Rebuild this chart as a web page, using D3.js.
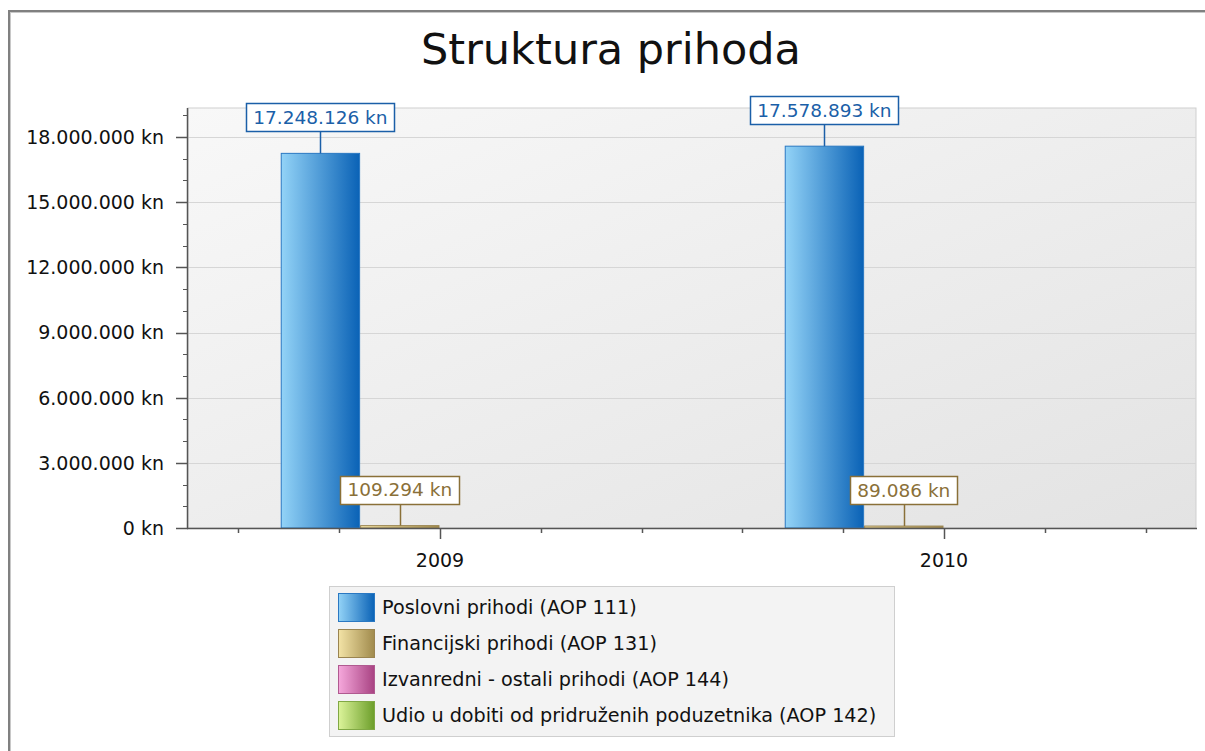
<!DOCTYPE html>
<html><head><meta charset="utf-8">
<script src="https://cdn.jsdelivr.net/npm/d3@7/dist/d3.min.js"></script>
<style>body{margin:0;background:#fff;}svg{display:block;font-family:"DejaVu Sans",Verdana,sans-serif;}</style>
</head><body>
<svg id="c" width="1205" height="751"></svg>
<script>
const title = "Struktura prihoda";
const years = ["2009", "2010"];
const seriesNames = ["Poslovni prihodi (AOP 111)", "Financijski prihodi (AOP 131)", "Izvanredni - ostali prihodi (AOP 144)", "Udio u dobiti od pridruženih poduzetnika (AOP 142)"];
const poslovni = [17248126, 17578893];
const financijski = [109294, 89086];
const izvanredni = [0, 0];
const udio = [0, 0];
const yTicks = [0, 3000000, 6000000, 9000000, 12000000, 15000000, 18000000];
const seriesValues = [poslovni, financijski, izvanredni, udio];
const colors = [
  {light:"#93d3f7", dark:"#0a62b6", stroke:"#2a78c2", label:"#1b5fa8"},
  {light:"#f3e3a6", dark:"#a08a4c", stroke:"#9a8450", label:"#8a7038"},
  {light:"#f6a8dc", dark:"#a84282", stroke:"#b05a90", label:"#a04080"},
  {light:"#dcf49a", dark:"#6c9e2a", stroke:"#80a844", label:"#5a8a20"}
];

const fmt = v => d3.format(",")(v).replace(/,/g, ".") + " kn";
const svg = d3.select("#c");
const defs = svg.append("defs");

// outer frame
svg.append("rect").attr("x", 9).attr("y", 11).attr("width", 1205).attr("height", 760)
  .attr("fill", "#fff").attr("stroke", "#808080").attr("stroke-width", 2);
svg.append("rect").attr("x", 10.5).attr("y", 12.5).attr("width", 1205).attr("height", 760)
  .attr("fill", "none").attr("stroke", "#c8c8c8").attr("stroke-width", 1);

const L = 188, R = 1196, T = 108, B = 528;
const maxV = d3.max(seriesValues.flat()) * 1.1;
const y = d3.scaleLinear().domain([0, maxV]).range([B, T]);
const x = d3.scaleBand().domain(years).range([L, R]).padding(0);
const step = x.bandwidth();
const xs = d3.scaleBand().domain(seriesNames).range([-0.316 * step, 0.314 * step]).padding(0);

// plot background
const bg = defs.append("linearGradient").attr("id", "bg").attr("x1", 0).attr("y1", 0).attr("x2", 1).attr("y2", 1);
bg.append("stop").attr("offset", 0).attr("stop-color", "#f8f8f8");
bg.append("stop").attr("offset", 1).attr("stop-color", "#e3e3e3");
svg.append("rect").attr("x", L).attr("y", T).attr("width", R - L).attr("height", B - T)
  .attr("fill", "url(#bg)").attr("stroke", "#cfcfcf");

// gridlines
svg.append("g").selectAll("line").data(yTicks.filter(d => d > 0)).join("line")
  .attr("x1", L).attr("x2", R).attr("y1", d => Math.round(y(d)) + 0.5).attr("y2", d => Math.round(y(d)) + 0.5)
  .attr("stroke", "#d6d6d6");

// gradients for bars
colors.forEach((c, i) => {
  const g = defs.append("linearGradient").attr("id", "g" + i).attr("x1", 0).attr("x2", 1).attr("y1", 0).attr("y2", 0);
  g.append("stop").attr("offset", 0).attr("stop-color", c.light);
  g.append("stop").attr("offset", 1).attr("stop-color", c.dark);
});

// bars
seriesValues.forEach((vals, si) => {
  svg.append("g").selectAll("rect").data(vals.map((v, i) => ({v, yr: years[i]})).filter(d => d.v > 0)).join("rect")
    .attr("x", d => x(d.yr) + step / 2 + xs(seriesNames[si]) + 0.5)
    .attr("width", xs.bandwidth() - 1)
    .attr("y", d => y(d.v))
    .attr("height", d => B - y(d.v))
    .attr("fill", "url(#g" + si + ")").attr("stroke", colors[si].stroke).attr("stroke-width", 1);
});

// y axis
const yMinor = d3.range(0, maxV, 1000000);
const yAxis = svg.append("g");
yAxis.append("line").attr("x1", L - 0.5).attr("x2", L - 0.5).attr("y1", T).attr("y2", B).attr("stroke", "#555").attr("stroke-width", 1.5);
yAxis.selectAll("line.mn").data(yMinor).join("line").attr("class", "mn")
  .attr("x1", L - 5).attr("x2", L).attr("y1", d => Math.round(y(d)) + 0.5).attr("y2", d => Math.round(y(d)) + 0.5)
  .attr("stroke", "#555");
yAxis.selectAll("line.mj").data(yTicks).join("line").attr("class", "mj")
  .attr("x1", L - 12).attr("x2", L).attr("y1", d => Math.round(y(d)) + 0.5).attr("y2", d => Math.round(y(d)) + 0.5)
  .attr("stroke", "#555").attr("stroke-width", 1.5);
yAxis.selectAll("text").data(yTicks).join("text")
  .attr("x", 164).attr("y", d => y(d)).attr("dy", "0.36em").attr("text-anchor", "end")
  .attr("font-size", 19).attr("fill", "#111").text(fmt);

// x axis
const xAxis = svg.append("g");
xAxis.append("line").attr("x1", L - 1).attr("x2", R + 1).attr("y1", B + 0.5).attr("y2", B + 0.5).attr("stroke", "#555").attr("stroke-width", 1.5);
const xMinor = years.flatMap(yr => d3.range(-2, 3).map(k => ({yr, k})));
xAxis.selectAll("line.t").data(xMinor).join("line").attr("class", "t")
  .attr("x1", d => Math.round(x(d.yr) + step / 2 + d.k * step / 5) + 0.5)
  .attr("x2", d => Math.round(x(d.yr) + step / 2 + d.k * step / 5) + 0.5)
  .attr("y1", B).attr("y2", d => d.k === 0 ? B + 11 : B + 5)
  .attr("stroke", "#555").attr("stroke-width", 1.5);
xAxis.selectAll("text").data(years).join("text")
  .attr("x", d => x(d) + step / 2).attr("y", 567).attr("text-anchor", "middle")
  .attr("font-size", 19).attr("fill", "#111").text(d => d);

// value labels
seriesValues.forEach((vals, si) => {
  vals.forEach((v, i) => {
    if (v <= 0) return;
    const cx = x(years[i]) + step / 2 + xs(seriesNames[si]) + xs.bandwidth() / 2;
    const top = y(v);
    const g = svg.append("g");
    const t = g.append("text").attr("x", cx).attr("y", top - 22 - 14).attr("dy", "0.36em")
      .attr("text-anchor", "middle").attr("font-size", 18.5).attr("fill", colors[si].label).text(fmt(v));
    const w = t.node().getComputedTextLength() + 14;
    g.insert("rect", "text").attr("x", Math.round(cx - w / 2) + 0.5).attr("y", Math.round(top - 22 - 28) + 0.5)
      .attr("width", Math.round(w)).attr("height", 28).attr("fill", "#fff")
      .attr("stroke", colors[si].label).attr("stroke-width", 1.5);
    g.append("line").attr("x1", Math.round(cx) + 0.5).attr("x2", Math.round(cx) + 0.5)
      .attr("y1", top - 22 + 0.5).attr("y2", top).attr("stroke", colors[si].label).attr("stroke-width", 1.5);
  });
});

// title
svg.append("text").attr("x", 611).attr("y", 64).attr("text-anchor", "middle")
  .attr("font-size", 43).attr("fill", "#111").text(title);

// legend
const lg = svg.append("g");
lg.append("rect").attr("x", 329.5).attr("y", 586.5).attr("width", 565).attr("height", 150)
  .attr("fill", "#f3f3f3").attr("stroke", "#cfcfcf");
const rows = lg.selectAll("g.row").data(seriesNames).join("g").attr("class", "row")
  .attr("transform", (d, i) => `translate(338,${593 + i * 36})`);
rows.append("rect").attr("x", 0.5).attr("y", 0.5).attr("width", 36).attr("height", 28)
  .attr("fill", (d, i) => `url(#g${i})`).attr("stroke", (d, i) => colors[i].stroke);
rows.append("text").attr("x", 44).attr("y", 14).attr("dy", "0.36em")
  .attr("font-size", 19.2).attr("fill", "#111").text(d => d);
</script>
</body></html>
